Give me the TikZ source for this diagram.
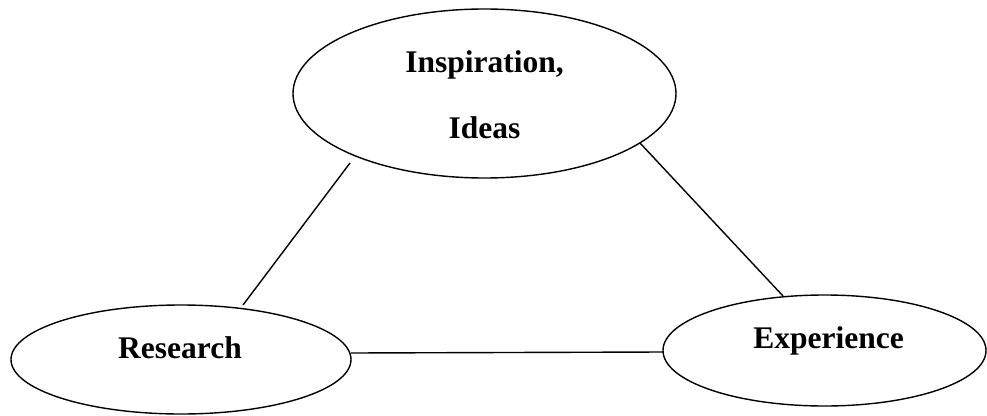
\documentclass[tikz,border=0pt]{standalone}
\usepackage{fontspec}
\setmainfont{Liberation Serif}
\usetikzlibrary{shapes.geometric}
\begin{document}
\begin{tikzpicture}[x=1pt,y=-1pt,
  oval/.style={draw, ellipse, line width=1.4pt, inner sep=0pt},
  lbl/.style={anchor=base, inner sep=0pt, font=\fontsize{31.5}{33}\selectfont\bfseries},
  conn/.style={line width=1.4pt}]
\useasboundingbox (0,0) rectangle (987,415);
\node[oval, minimum width=383pt, minimum height=169pt] (ideas) at (484.5,93.5) {};
\node[oval, minimum width=340pt, minimum height=109pt] (research) at (181,359.5) {};
\node[oval, minimum width=323pt, minimum height=111pt] (experience) at (824.5,350.5) {};
\node[lbl] (t1) at (484.5,72) {Inspiration,};
\node[lbl] (t2) at (484.5,138) {Ideas};
\node[lbl] (t3) at (180,358) {Research};
\node[lbl] (t4) at (828.5,348) {Experience};
\coordinate (a1) at (350,163);
\coordinate (a2) at (243,305);
\coordinate (b1) at (640,143);
\coordinate (b2) at (783,296);
\coordinate (c1) at (351,353);
\coordinate (c2) at (663,352);
\draw[conn] (a1) -- (a2);
\draw[conn] (b1) -- (b2);
\draw[conn] (c1) -- (c2);
\end{tikzpicture}
\end{document}
